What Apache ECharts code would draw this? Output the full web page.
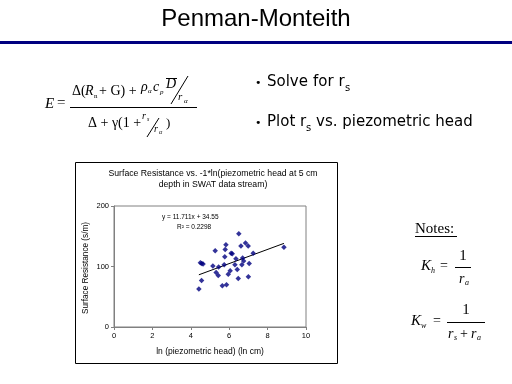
<!DOCTYPE html>
<html>
<head>
<meta charset="utf-8">
<script src="https://cdn.jsdelivr.net/npm/echarts@6/dist/echarts.min.js"></script>
<style>html,body{margin:0;padding:0;background:#fff}#c{width:512px;height:384px}</style>
</head>
<body>
<div id="c"></div>
<script>
// Data
var lnHead = [4.42, 4.50, 4.57, 4.64, 4.56, 5.15, 5.27, 5.32, 5.43, 5.45, 5.64, 5.74, 5.77, 5.79, 5.83, 5.86, 5.95, 6.05, 6.10, 6.16, 6.30, 6.35, 6.42, 6.47, 6.50, 6.61, 6.66, 6.70, 6.75, 6.85, 6.99, 7.04, 7.00, 7.25, 8.85];
var resistance = [63, 106, 105, 104, 77, 101, 126, 90, 85, 99, 68, 103, 116, 128, 136, 70, 87, 93, 122, 121, 103, 113, 95, 80, 154, 134, 103, 114, 109, 139, 134, 105, 83, 122, 132];
var trendX = [4.42, 8.85];
var trendY = [86.3, 138.2];
var xTicks = [0, 2, 4, 6, 8, 10];
var yTicks = [0, 100, 200];

var SANS = 'Liberation Sans, Arial, sans-serif';
var WIDE = 'DejaVu Sans, Verdana, sans-serif';
var SERIF = 'Liberation Serif, Times New Roman, serif';

function T(x, y, text, size, opts) {
  opts = opts || {};
  var fam = opts.serif ? SERIF : (opts.wide ? WIDE : SANS);
  return {
    type: 'text', x: x, y: y, rotation: opts.rotation || 0, z: 10,
    style: {
      text: text, fill: '#000',
      font: (opts.italic ? 'italic ' : '') + size + 'px ' + fam,
      textAlign: opts.align || 'left', textVerticalAlign: 'middle'
    }
  };
}
function L(x1, y1, x2, y2, w, c) {
  return { type: 'line', z: 10, shape: {x1: x1, y1: y1, x2: x2, y2: y2}, style: {stroke: c || '#000', lineWidth: w || 1} };
}
var S = {serif: true};
var SI = {serif: true, italic: true};
var W = {wide: true};

var graphics = [
  // slide title and rule
  T(256, 19, 'Penman-Monteith', 24, {align: 'center'}),
  {type: 'rect', shape: {x: 0, y: 41, width: 512, height: 3}, style: {fill: '#000080'}},
  // bullets
  T(255, 83, '\u2022', 11, W),
  T(267, 82, 'Solve', 15, W),
  T(313, 82, 'for r', 15, W),
  T(345, 88, 's', 10, W),
  T(255, 123, '\u2022', 11, W),
  T(267, 122, 'Plot r', 15, W),
  T(306, 128, 's', 10, W),
  T(316, 122, 'vs. piezometric head', 15, W),
  // Penman-Monteith equation
  T(45, 104, 'E', 15, SI),
  T(57, 103, '=', 15, S),
  L(70, 107.5, 197, 107.5, 1),
  T(72, 91, '\u0394(', 14, S),
  T(85, 91, 'R', 14, SI),
  T(94, 96, 'n', 7, S),
  T(99, 91, '+ G) +', 14, S),
  T(141, 87, '\u03c1', 14, SI),
  T(148, 91, '\u03b1', 7, SI),
  T(153, 87, 'c', 14, SI),
  T(160, 92, 'p', 7, SI),
  T(166, 84, 'D', 14, SI),
  L(166, 78.5, 177, 78.5, 1),
  L(171, 104, 188, 76, 1),
  T(178, 97, 'r', 11, SI),
  T(184, 101, '\u03b1', 7, SI),
  T(88, 123, '\u0394 + \u03b3(1 +', 14, S),
  T(142, 116, 'r', 10, SI),
  T(147, 119, 's', 6, SI),
  L(147, 137, 159, 118, 1),
  T(154, 129, 'r', 10, SI),
  T(159, 132, '\u03b1', 6, SI),
  T(166, 124, ')', 13, S),
  // chart frame and title
  {type: 'rect', z: 1, shape: {x: 75.5, y: 162.5, width: 262, height: 201}, style: {fill: 'none', stroke: '#000', lineWidth: 1}},
  T(213, 174, 'Surface Resistance vs. -1*ln(piezometric head at 5 cm', 8.7, {align: 'center'}),
  T(213, 185, 'depth in SWAT data stream)', 8.7, {align: 'center'}),
  T(162, 217, 'y = 11.711x + 34.55', 6.5),
  T(177, 227, 'R\u00b2 = 0.2298', 6.5),
  T(86, 268, 'Surface Resistance (s/m)', 8.2, {align: 'center', rotation: Math.PI / 2}),
  T(210, 352, 'ln (piezometric head) (ln cm)', 8.5, {align: 'center'}),
  // Notes
  T(415, 229, 'Notes:', 15, S),
  L(415, 236.5, 457, 236.5, 1),
  T(421, 266, 'K', 15, SI),
  T(431, 271, 'h', 8, SI),
  T(440, 266, '=', 14, S),
  L(455, 267.5, 471, 267.5, 1),
  T(463, 256, '1', 15, {serif: true, align: 'center'}),
  T(459, 279, 'r', 14, SI),
  T(465, 283, 'a', 8, SI),
  T(411, 321, 'K', 15, SI),
  T(421, 326, 'w', 8, SI),
  T(433, 321, '=', 14, S),
  L(447, 322.5, 485, 322.5, 1),
  T(466, 310, '1', 15, {serif: true, align: 'center'}),
  T(448, 334, 'r', 14, SI),
  T(454, 338, 's', 8, SI),
  T(460, 334, '+', 14, S),
  T(471, 334, 'r', 14, SI),
  T(477, 338, 'a', 8, SI)
];

var chart = echarts.init(document.getElementById('c'), null, {renderer: 'canvas'});
var points = lnHead.map(function (x, i) { return [x, resistance[i]]; });
var trend = trendX.map(function (x, i) { return [x, trendY[i]]; });
chart.setOption({
  backgroundColor: '#fff',
  animation: false,
  grid: {left: 114, top: 206, width: 192, height: 121, show: true, borderColor: '#808080', borderWidth: 1, backgroundColor: 'transparent'},
  xAxis: {
    type: 'value', min: xTicks[0], max: xTicks[xTicks.length - 1], interval: xTicks[1] - xTicks[0],
    axisLine: {show: true, lineStyle: {color: '#808080'}},
    axisTick: {show: true, length: 3, lineStyle: {color: '#808080'}},
    splitLine: {show: false},
    axisLabel: {color: '#000', fontSize: 7.5, fontFamily: SANS, margin: 5}
  },
  yAxis: {
    type: 'value', min: yTicks[0], max: yTicks[yTicks.length - 1], interval: yTicks[1] - yTicks[0],
    axisLine: {show: true, lineStyle: {color: '#808080'}},
    axisTick: {show: true, length: 3, lineStyle: {color: '#808080'}},
    splitLine: {show: false},
    axisLabel: {color: '#000', fontSize: 7.5, fontFamily: SANS, margin: 5}
  },
  series: [
    {type: 'scatter', data: points, symbol: 'diamond', symbolSize: 5.5, itemStyle: {color: '#000080'}, z: 3},
    {type: 'line', data: trend, showSymbol: false, symbol: 'none', lineStyle: {color: '#000', width: 1}, z: 2}
  ],
  graphic: graphics
});
</script>
</body>
</html>
